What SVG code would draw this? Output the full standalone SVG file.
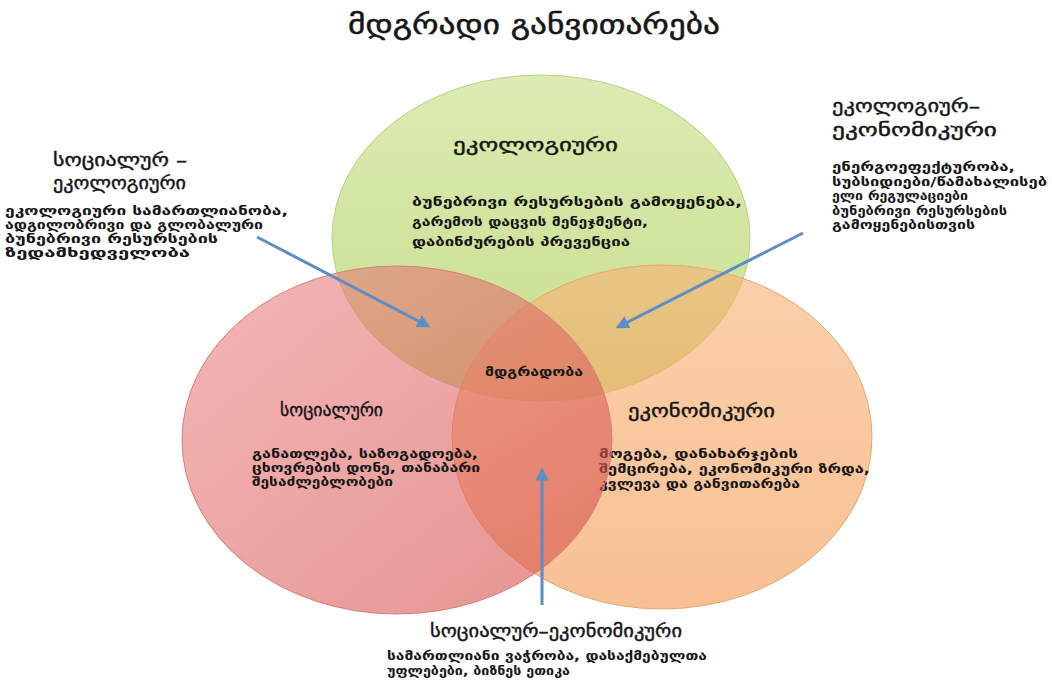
<svg xmlns="http://www.w3.org/2000/svg" width="1052" height="685" viewBox="0 0 1052 685">
  <defs>
    <linearGradient id="gGreen" x1="0" y1="0" x2="0" y2="1">
      <stop offset="0" stop-color="#dcebb2"/>
      <stop offset="1" stop-color="#c6de8c"/>
    </linearGradient>
    <linearGradient id="gRed" x1="0" y1="0" x2="1" y2="1">
      <stop offset="0" stop-color="#ea8888"/>
      <stop offset="1" stop-color="#d44a44"/>
    </linearGradient>
    <linearGradient id="gOrange" x1="0" y1="0" x2="0" y2="1">
      <stop offset="0" stop-color="#f9b276"/>
      <stop offset="1" stop-color="#f39a52"/>
    </linearGradient>
    <marker id="arrow" viewBox="0 0 10 10" refX="8" refY="5" markerWidth="4.4" markerHeight="4.4" orient="auto" markerUnits="strokeWidth">
      <path d="M0,0 L10,5 L0,10 z" fill="#5b8dc6"/>
    </marker>
    <style>
      text { font-family: "DejaVu Sans", "Noto Sans", sans-serif; fill: #161616; }
      .title { font-size: 27px; stroke: #161616; stroke-width: 0.5; }
      .head { font-size: 18px; stroke: #161616; stroke-width: 0.4; }
      .body { font-size: 12px; font-weight: bold; }
      .conn { stroke: #5b8dc6; stroke-width: 3; fill: none; marker-end: url(#arrow); }
    </style>
  </defs>

  <rect width="1052" height="685" fill="#ffffff"/>

  <text class="title" x="348" y="34" textLength="372" lengthAdjust="spacingAndGlyphs">მდგრადი განვითარება</text>

  <!-- the three overlapping sets -->
  <g id="ecological">
    <ellipse cx="541" cy="238" rx="209" ry="163" fill="url(#gGreen)" stroke="#b9d087" stroke-width="1"/>
    <text class="head" x="453" y="151" textLength="165" lengthAdjust="spacingAndGlyphs">ეკოლოგიური</text>
    <text class="body" x="412" y="206" textLength="330" lengthAdjust="spacingAndGlyphs">ბუნებრივი რესურსების გამოყენება,</text>
    <text class="body" x="412" y="226" textLength="236" lengthAdjust="spacingAndGlyphs">გარემოს დაცვის მენეჯმენტი,</text>
    <text class="body" x="412" y="246" textLength="218" lengthAdjust="spacingAndGlyphs">დაბინძურების პრევენცია</text>
  </g>

  <g id="economic">
    <ellipse cx="662" cy="437" rx="210" ry="172" fill="url(#gOrange)" fill-opacity="0.62" stroke="#e8a872" stroke-width="1"/>
    <text class="head" x="628" y="417" textLength="147" lengthAdjust="spacingAndGlyphs">ეკონომიკური</text>
    <text class="body" x="599" y="458" textLength="199" lengthAdjust="spacingAndGlyphs">მოგება, დანახარჯების</text>
    <text class="body" x="599" y="473" textLength="271" lengthAdjust="spacingAndGlyphs">შემცირება, ეკონომიკური ზრდა,</text>
    <text class="body" x="599" y="488" textLength="201" lengthAdjust="spacingAndGlyphs">კვლევა და განვითარება</text>
  </g>

  <g id="social">
    <ellipse cx="397" cy="440" rx="215" ry="174" fill="url(#gRed)" fill-opacity="0.6" stroke="#d77f7c" stroke-width="1"/>
    <text class="head" x="280" y="416" textLength="103" lengthAdjust="spacingAndGlyphs">სოციალური</text>
    <text class="body" x="252" y="458" textLength="226" lengthAdjust="spacingAndGlyphs">განათლება, საზოგადოება,</text>
    <text class="body" x="252" y="472" textLength="228" lengthAdjust="spacingAndGlyphs">ცხოვრების დონე, თანაბარი</text>
    <text class="body" x="252" y="486" textLength="141" lengthAdjust="spacingAndGlyphs">შესაძლებლობები</text>
  </g>

  <g id="sustainability">
    <text class="body" x="485" y="376" textLength="98" lengthAdjust="spacingAndGlyphs">მდგრადობა</text>
  </g>

  <!-- intersection descriptions -->
  <g id="social-ecological">
    <text class="head" x="53" y="166" textLength="134" lengthAdjust="spacingAndGlyphs">სოციალურ –</text>
    <text class="head" x="53" y="189" textLength="133" lengthAdjust="spacingAndGlyphs">ეკოლოგიური</text>
    <text class="body" x="5" y="215" textLength="283" lengthAdjust="spacingAndGlyphs">ეკოლოგიური სამართლიანობა,</text>
    <text class="body" x="5" y="229" textLength="258" lengthAdjust="spacingAndGlyphs">ადგილობრივი და გლობალური</text>
    <text class="body" x="5" y="243" textLength="213" lengthAdjust="spacingAndGlyphs">ბუნებრივი რესურსების</text>
    <text class="body" x="5" y="257" textLength="185" lengthAdjust="spacingAndGlyphs">ზედამხედველობა</text>
  </g>

  <g id="ecological-economic">
    <text class="head" x="832" y="112" textLength="148" lengthAdjust="spacingAndGlyphs">ეკოლოგიურ–</text>
    <text class="head" x="832" y="136" textLength="165" lengthAdjust="spacingAndGlyphs">ეკონომიკური</text>
    <text class="body" x="832" y="171" textLength="183" lengthAdjust="spacingAndGlyphs">ენერგოეფექტურობა,</text>
    <text class="body" x="832" y="186" textLength="215" lengthAdjust="spacingAndGlyphs">სუბსიდიები/წამახალისებ</text>
    <text class="body" x="832" y="200" textLength="136" lengthAdjust="spacingAndGlyphs">ელი რეგულაციები</text>
    <text class="body" x="832" y="215" textLength="175" lengthAdjust="spacingAndGlyphs">ბუნებრივი რესურსების</text>
    <text class="body" x="832" y="229" textLength="143" lengthAdjust="spacingAndGlyphs">გამოყენებისთვის</text>
  </g>

  <g id="social-economic">
    <text class="head" x="430" y="637" textLength="252" lengthAdjust="spacingAndGlyphs">სოციალურ–ეკონომიკური</text>
    <text class="body" x="387" y="660" textLength="320" lengthAdjust="spacingAndGlyphs">სამართლიანი ვაჭრობა, დასაქმებულთა</text>
    <text class="body" x="387" y="675" textLength="183" lengthAdjust="spacingAndGlyphs">უფლებები, ბიზნეს ეთიკა</text>
  </g>

  <!-- pointers from the descriptions into the overlaps -->
  <g id="connectors">
    <line class="conn" x1="257" y1="237" x2="428" y2="326"/>
    <line class="conn" x1="803" y1="233" x2="618" y2="327"/>
    <line class="conn" x1="542" y1="605" x2="542" y2="470"/>
  </g>
</svg>
